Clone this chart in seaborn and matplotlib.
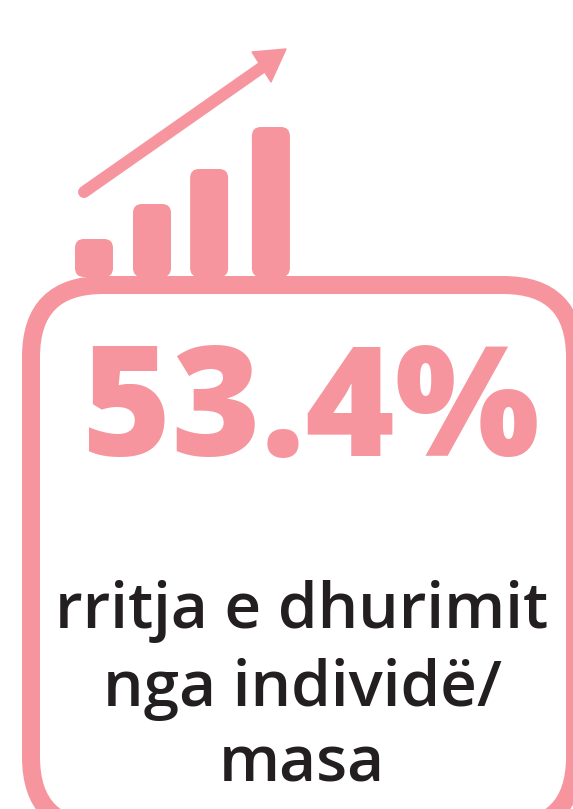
import matplotlib
matplotlib.use("Agg")
import matplotlib.pyplot as plt
from matplotlib.patches import FancyBboxPatch, Polygon
import pandas as pd
import seaborn as sns

# bar heights
steps = ["a", "b", "c", "d"]
heights = [38, 73, 108, 150]
headline = "53.4%"
caption = ["rritja e dhurimit", "nga individë/", "masa"]

pink = "#f6959e"
ink = "#231f20"
W, H = 573, 809

sns.set_theme(style="white")
plt.rcParams['font.family'] = ['Open Sans', 'DejaVu Sans']

fig = plt.figure(figsize=(W / 100, H / 100), dpi=100)
fig.patch.set_facecolor("white")

# whole page in pixel units
ax = fig.add_axes([0, 0, 1, 1])
ax.set_xlim(0, W)
ax.set_ylim(H, 0)
ax.axis("off")

# rounded frame, runs off the right and bottom edge
frame = FancyBboxPatch((31, 285), 544, 544, boxstyle="round,pad=0,rounding_size=72",
                       fc="white", ec=pink, lw=18 * 0.72, zorder=1)
ax.add_patch(frame)

# arrow
ax.plot([84, 264], [192, 66], color=pink, lw=12 * 0.72, solid_capstyle="round", zorder=2)
ax.add_patch(Polygon([(286, 49), (252, 52), (271, 82)], closed=True, fc=pink, ec=pink,
                     lw=1, joinstyle="round", zorder=2))

# bars, 58 px per category
df = pd.DataFrame({"step": steps, "height": heights})
bar_ax = fig.add_axes([75 / W, 1 - 277 / H, 215 / W, 151 / H], zorder=3)
bar_ax.patch.set_alpha(0)
sns.barplot(data=df, x="step", y="height", color=pink, saturation=1, width=38 / 58, ax=bar_ax)
bar_ax.set_xlim(-19 / 58, -19 / 58 + 215 / 58)
bar_ax.set_ylim(0, 151)
bar_ax.axis("off")

# swap the square bars for rounded ones, same geometry
x_shift = [0, 0, -0.015, 0.05]
sx = 58
sy = 1
for p, dx in zip(list(bar_ax.patches), x_shift):
    x, w, h = p.get_x(), p.get_width(), p.get_height()
    p.set_visible(False)
    r = FancyBboxPatch((x + dx, 0), w, h, boxstyle="round,pad=0,rounding_size=%f" % (9 / sx),
                       mutation_aspect=sx / sy, fc=pink, ec="none")
    bar_ax.add_patch(r)

ax.text(311, 456, headline, color=pink, fontsize=110, fontweight="heavy",
        ha="center", va="baseline", zorder=4)

for line, y in zip(caption, [628, 706, 782]):
    ax.text(302, y, line, color=ink, fontsize=46, fontweight="semibold",
            ha="center", va="baseline", zorder=4)

fig.savefig("out.png", dpi=100)
